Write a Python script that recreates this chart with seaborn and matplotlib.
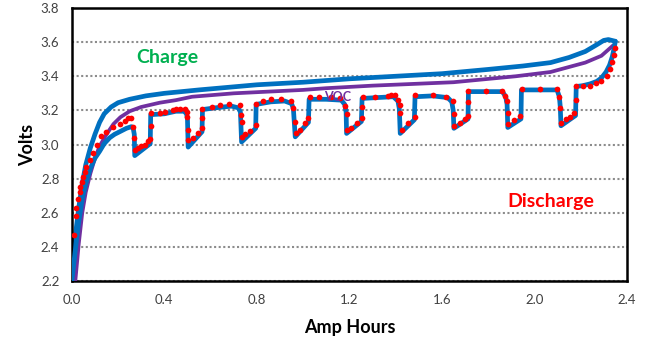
"""Pulse discharge vs charge curve for a LiFePO4 cell (Volts vs Amp Hours)."""

import matplotlib

matplotlib.use("Agg")

import matplotlib.pyplot as plt
import pandas as pd
import seaborn as sns

# charge curve (blue, top)
CHARGE_AH = [0.0, 0.01, 0.02, 0.03, 0.045, 0.06, 0.08, 0.10, 0.12, 0.14, 0.17, 0.20,
             0.25, 0.32, 0.40, 0.55, 0.80, 1.00, 1.20, 1.40, 1.60, 1.80, 1.95, 2.07,
             2.15, 2.22, 2.27, 2.30, 2.32, 2.35]
CHARGE_V = [2.20, 2.38, 2.52, 2.63, 2.77, 2.88, 2.98, 3.06, 3.13, 3.18, 3.22, 3.245,
            3.265, 3.285, 3.30, 3.32, 3.35, 3.365, 3.385, 3.40, 3.415, 3.44, 3.46, 3.48,
            3.51, 3.545, 3.585, 3.61, 3.615, 3.605]

# open circuit voltage (purple)
VOC_AH = [0.015, 0.03, 0.045, 0.06, 0.08, 0.10, 0.12, 0.15, 0.18, 0.21, 0.25, 0.30,
          0.38, 0.45, 0.52, 0.70, 1.00, 1.10, 1.30, 1.65, 1.92, 2.07, 2.22, 2.29, 2.34]
VOC_V = [2.20, 2.42, 2.60, 2.72, 2.83, 2.92, 2.99, 3.06, 3.12, 3.16, 3.195, 3.22,
         3.245, 3.26, 3.28, 3.30, 3.32, 3.33, 3.345, 3.365, 3.40, 3.425, 3.48, 3.52, 3.58]

# pulsed discharge model (blue steps)
MODEL_AH = [0.0, 0.01, 0.02, 0.03, 0.045, 0.06, 0.08, 0.10, 0.12, 0.14, 0.164, 0.185,
            0.207, 0.236, 0.258, 0.266, 0.270, 0.272,
            0.339, 0.341, 0.40, 0.45, 0.485, 0.496, 0.500, 0.503,
            0.563, 0.565, 0.62, 0.69, 0.72, 0.729, 0.734,
            0.795, 0.797, 0.86, 0.92, 0.950, 0.958, 0.966,
            1.023, 1.026, 1.10, 1.165, 1.180, 1.186, 1.188,
            1.252, 1.255, 1.32, 1.39, 1.410, 1.416, 1.420,
            1.481, 1.484, 1.56, 1.625, 1.643, 1.649, 1.652,
            1.713, 1.715, 1.79, 1.862, 1.876, 1.882, 1.885,
            1.942, 1.944, 2.025, 2.098, 2.108, 2.112, 2.115,
            2.178, 2.181, 2.21, 2.24, 2.27, 2.29, 2.31, 2.325, 2.337, 2.345, 2.35]
MODEL_V = [2.20, 2.32, 2.44, 2.55, 2.68, 2.77, 2.86, 2.92, 2.96, 3.005, 3.04, 3.06,
           3.075, 3.095, 3.105, 3.09, 3.06, 2.935,
           3.005, 3.175, 3.18, 3.195, 3.195, 3.18, 3.15, 2.985,
           3.075, 3.205, 3.215, 3.225, 3.215, 3.19, 3.015,
           3.095, 3.235, 3.25, 3.255, 3.24, 3.21, 3.045,
           3.13, 3.265, 3.265, 3.26, 3.235, 3.19, 3.065,
           3.135, 3.27, 3.275, 3.28, 3.255, 3.21, 3.065,
           3.145, 3.28, 3.285, 3.275, 3.25, 3.20, 3.095,
           3.15, 3.31, 3.31, 3.31, 3.28, 3.235, 3.10,
           3.15, 3.32, 3.32, 3.32, 3.28, 3.22, 3.11,
           3.17, 3.34, 3.345, 3.355, 3.37, 3.39, 3.425, 3.465, 3.515, 3.565, 3.605]

# measured discharge points (red dots)
MEAS_AH = [0.009, 0.017, 0.020, 0.027, 0.034, 0.037, 0.042, 0.049, 0.056, 0.063, 0.078,
           0.091, 0.107, 0.128, 0.149, 0.178, 0.207, 0.228, 0.243, 0.257,
           0.266, 0.270, 0.275, 0.287, 0.301, 0.315, 0.329, 0.339, 0.341, 0.342,
           0.380, 0.402, 0.438, 0.452, 0.469, 0.488, 0.497, 0.500, 0.501, 0.503,
           0.525, 0.546, 0.565, 0.565, 0.565,
           0.604, 0.640, 0.680, 0.726, 0.730, 0.734, 0.734,
           0.750, 0.770, 0.796, 0.797,
           0.826, 0.862, 0.905, 0.948, 0.957, 0.964, 0.969,
           0.986, 1.008, 1.022, 1.029,
           1.070, 1.120, 1.160, 1.181, 1.188, 1.188,
           1.209, 1.231, 1.253, 1.253, 1.257,
           1.310, 1.368, 1.382, 1.397, 1.411, 1.418, 1.418, 1.426,
           1.454, 1.483, 1.486,
           1.562, 1.620, 1.649, 1.652, 1.652,
           1.678, 1.700, 1.715, 1.715, 1.715,
           1.792, 1.860, 1.875, 1.882, 1.885, 1.885,
           1.911, 1.940, 1.945,
           2.025, 2.100, 2.108, 2.112, 2.115,
           2.137, 2.156, 2.173, 2.181, 2.181,
           2.210, 2.239, 2.268, 2.290, 2.312, 2.326, 2.337, 2.344, 2.348]
MEAS_V = [2.47, 2.58, 2.63, 2.68, 2.72, 2.75, 2.78, 2.81, 2.84, 2.87, 2.91,
          2.95, 3.00, 3.05, 3.075, 3.105, 3.12, 3.14, 3.153, 3.157,
          3.105, 3.036, 2.965, 2.98, 2.99, 3.00, 3.02, 3.03, 3.11, 3.185,
          3.185, 3.19, 3.20, 3.206, 3.208, 3.206, 3.19, 3.163, 3.085, 3.026,
          3.04, 3.066, 3.095, 3.154, 3.21,
          3.218, 3.232, 3.237, 3.232, 3.173, 3.133, 3.046,
          3.06, 3.08, 3.114, 3.24,
          3.256, 3.265, 3.265, 3.256, 3.212, 3.134, 3.066,
          3.085, 3.125, 3.153, 3.28,
          3.28, 3.28, 3.275, 3.227, 3.18, 3.085,
          3.095, 3.124, 3.154, 3.22, 3.277,
          3.277, 3.286, 3.29, 3.29, 3.26, 3.23, 3.183, 3.085,
          3.124, 3.16, 3.29,
          3.29, 3.28, 3.257, 3.18, 3.11,
          3.128, 3.148, 3.168, 3.247, 3.316,
          3.316, 3.316, 3.286, 3.253, 3.187, 3.118,
          3.142, 3.168, 3.326,
          3.326, 3.326, 3.277, 3.213, 3.128,
          3.148, 3.162, 3.187, 3.261, 3.345,
          3.345, 3.345, 3.359, 3.375, 3.404, 3.444, 3.484, 3.523, 3.563]

Y_TICKS = [2.2, 2.4, 2.6, 2.8, 3.0, 3.2, 3.4, 3.6, 3.8]
X_TICKS = [0.0, 0.4, 0.8, 1.2, 1.6, 2.0, 2.4]

BLUE = "#0070C0"
PURPLE = "#7030A0"
RED = "#FF0000"
GREEN = "#00B050"
TEXT_GREY = "#404040"


def main() -> None:
    sns.set_theme(style="white")
    plt.rcParams["font.family"] = ["Lato", "DejaVu Sans"]

    charge = pd.DataFrame({"ah": CHARGE_AH, "v": CHARGE_V})
    voc = pd.DataFrame({"ah": VOC_AH, "v": VOC_V})
    model = pd.DataFrame({"ah": MODEL_AH, "v": MODEL_V})
    meas = pd.DataFrame({"ah": MEAS_AH, "v": MEAS_V})

    fig = plt.figure(figsize=(6.53, 3.47), dpi=100)
    ax = fig.add_axes([0.110, 0.190, 0.850, 0.787])

    ax.set_axisbelow(True)
    ax.yaxis.grid(True, color="#8c8c8c", linestyle=(0, (1, 1.2)), linewidth=1.5)
    ax.xaxis.grid(False)

    sns.lineplot(data=charge, x="ah", y="v", sort=False, estimator=None,
                 color=BLUE, linewidth=3.4, ax=ax, zorder=2)
    sns.lineplot(data=voc, x="ah", y="v", sort=False, estimator=None,
                 color=PURPLE, linewidth=2.7, ax=ax, zorder=3)
    sns.lineplot(data=model, x="ah", y="v", sort=False, estimator=None,
                 color=BLUE, linewidth=3.4, ax=ax, zorder=4)
    sns.scatterplot(data=meas, x="ah", y="v", color=RED, s=17, linewidth=0,
                    ax=ax, zorder=5)

    ax.set_xlim(0.0, 2.4)
    ax.set_ylim(2.2, 3.8)
    ax.set_xticks(X_TICKS)
    ax.set_yticks(Y_TICKS)
    ax.set_xticklabels([f"{t:.1f}" for t in X_TICKS])
    ax.set_yticklabels([f"{t:.1f}" for t in Y_TICKS])
    ax.tick_params(axis="both", which="major", labelsize=9.5, colors="#8c8c8c",
                   labelcolor=TEXT_GREY, length=4, width=1, direction="out", pad=5)

    for side in ["left", "right", "top", "bottom"]:
        ax.spines[side].set_visible(True)
        ax.spines[side].set_color("black")
        ax.spines[side].set_linewidth(1.8)

    ax.set_xlabel("Amp Hours", fontsize=13, fontweight="bold", color="black",
                  labelpad=10)
    ax.set_ylabel("Volts", fontsize=13, fontweight="bold", color="black",
                  labelpad=3)

    ax.text(0.415, 3.478, "Charge", color=GREEN, fontsize=14, fontweight="bold",
            ha="center", va="baseline", zorder=6)
    ax.text(2.071, 2.635, "Discharge", color=RED, fontsize=14, fontweight="bold",
            ha="center", va="baseline", zorder=6)
    ax.text(1.150, 3.255, "VOC", color=PURPLE, fontsize=9, fontweight="bold",
            ha="center", va="baseline", zorder=6)

    fig.savefig("out.png", dpi=100)
    plt.close(fig)


if __name__ == "__main__":
    main()
